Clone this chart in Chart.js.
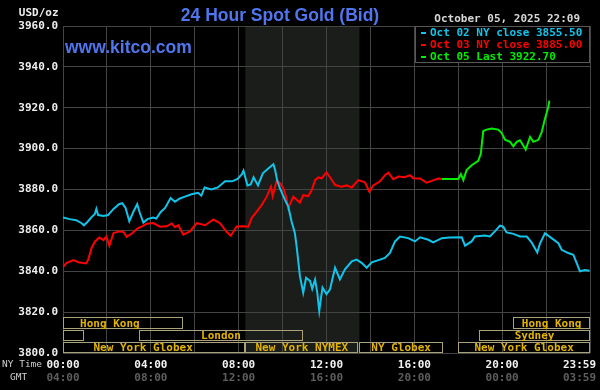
<!DOCTYPE html>
<html>
<head>
<meta charset="utf-8">
<script src="https://cdn.jsdelivr.net/npm/chart.js@4.4.0/dist/chart.umd.min.js"></script>
<style>
  html, body { margin: 0; padding: 0; background: #000; }
  canvas { display: block; }
</style>
</head>
<body>
<canvas id="gold" width="600" height="390"></canvas>
<script>
// ===== DATA (hours of NY time, USD/oz) =====
const oct02Hours = [0.00, 0.30, 0.60, 0.85, 0.95, 1.10, 1.30, 1.45, 1.52, 1.60, 1.85, 2.05, 2.30, 2.55, 2.70, 2.85, 3.02, 3.20, 3.38, 3.50, 3.66, 3.85, 4.10, 4.25, 4.45, 4.65, 4.90, 5.10, 5.30, 5.55, 5.85, 6.15, 6.30, 6.45, 6.75, 7.05, 7.38, 7.70, 7.95, 8.15, 8.22, 8.40, 8.55, 8.68, 8.88, 9.10, 9.35, 9.58, 9.66, 9.75, 9.88, 10.11, 10.26, 10.41, 10.56, 10.64, 10.79, 10.94, 11.07, 11.25, 11.35, 11.48, 11.58, 11.67, 11.75, 11.82, 12.00, 12.16, 12.39, 12.61, 12.84, 13.15, 13.37, 13.60, 13.83, 14.06, 14.44, 14.66, 14.89, 15.12, 15.35, 15.72, 16.03, 16.26, 16.64, 16.86, 17.25, 17.60, 18.16, 18.31, 18.61, 18.76, 19.22, 19.44, 19.67, 19.90, 20.05, 20.20, 20.51, 20.81, 21.12, 21.34, 21.60, 21.72, 21.95, 22.25, 22.56, 22.71, 23.01, 23.24, 23.39, 23.54, 23.77, 23.98];
const oct02Prices = [3866.3, 3865.5, 3865.0, 3863.5, 3862.5, 3864.0, 3866.5, 3868.0, 3870.5, 3867.5, 3867.0, 3867.5, 3870.5, 3872.8, 3873.3, 3871.0, 3864.5, 3869.0, 3872.8, 3868.5, 3863.8, 3865.5, 3866.3, 3865.8, 3869.0, 3871.0, 3875.8, 3874.0, 3875.5, 3876.5, 3877.7, 3878.4, 3877.0, 3881.0, 3880.0, 3881.0, 3884.0, 3884.0, 3885.2, 3887.5, 3889.3, 3882.0, 3882.5, 3886.0, 3882.0, 3887.9, 3890.3, 3892.4, 3889.5, 3884.6, 3880.5, 3874.9, 3871.6, 3864.3, 3858.6, 3852.1, 3837.6, 3829.5, 3836.8, 3835.3, 3831.4, 3835.9, 3829.5, 3820.6, 3827.0, 3832.0, 3828.8, 3831.2, 3841.7, 3836.0, 3840.9, 3844.9, 3845.7, 3844.1, 3841.7, 3844.4, 3845.7, 3846.5, 3849.0, 3854.6, 3857.0, 3856.2, 3854.6, 3856.6, 3855.4, 3854.1, 3856.2, 3856.5, 3856.6, 3852.5, 3854.6, 3857.0, 3857.5, 3857.0, 3859.5, 3862.3, 3861.8, 3859.0, 3858.3, 3857.0, 3857.0, 3854.1, 3849.2, 3853.5, 3858.6, 3856.2, 3853.7, 3850.5, 3848.9, 3848.1, 3844.1, 3840.0, 3840.6, 3840.2];

const oct03Hours = [0.00, 0.15, 0.47, 0.70, 1.05, 1.15, 1.30, 1.46, 1.65, 1.84, 1.97, 2.11, 2.30, 2.55, 2.75, 2.90, 3.15, 3.40, 3.60, 3.81, 4.11, 4.42, 4.72, 4.95, 5.10, 5.25, 5.48, 5.78, 6.09, 6.47, 6.85, 7.15, 7.45, 7.64, 7.91, 8.21, 8.44, 8.59, 8.82, 9.05, 9.28, 9.47, 9.55, 9.73, 9.88, 10.03, 10.15, 10.26, 10.49, 10.64, 10.79, 10.94, 11.17, 11.33, 11.48, 11.63, 11.78, 12.00, 12.16, 12.39, 12.69, 12.92, 13.15, 13.45, 13.75, 13.95, 14.13, 14.44, 14.66, 14.82, 15.04, 15.27, 15.57, 15.80, 15.95, 16.26, 16.56, 16.79, 17.09, 17.25];
const oct03Prices = [3842.0, 3844.0, 3845.5, 3844.4, 3843.8, 3845.7, 3851.4, 3854.6, 3856.5, 3855.2, 3857.0, 3852.5, 3858.7, 3859.5, 3859.3, 3856.8, 3858.6, 3861.0, 3862.0, 3863.2, 3863.6, 3861.8, 3862.0, 3863.4, 3861.5, 3862.5, 3857.9, 3859.5, 3863.6, 3862.5, 3865.3, 3863.5, 3859.3, 3857.4, 3861.9, 3862.0, 3861.8, 3866.0, 3869.2, 3872.5, 3876.5, 3881.4, 3876.8, 3884.3, 3883.2, 3880.6, 3876.8, 3871.0, 3876.5, 3875.0, 3873.6, 3877.2, 3876.8, 3879.7, 3884.6, 3885.9, 3885.5, 3888.4, 3886.0, 3882.2, 3881.4, 3882.0, 3881.0, 3884.6, 3883.5, 3878.9, 3882.0, 3884.0, 3887.0, 3888.2, 3885.0, 3886.3, 3886.0, 3887.0, 3885.5, 3885.4, 3883.3, 3884.2, 3885.4, 3885.1];

const oct05Hours = [17.25, 18.00, 18.12, 18.23, 18.38, 18.61, 18.91, 19.03, 19.08, 19.14, 19.29, 19.52, 19.82, 19.98, 20.13, 20.36, 20.51, 20.66, 20.81, 20.96, 21.07, 21.27, 21.42, 21.65, 21.80, 21.95, 22.10, 22.15];
const oct05Prices = [3885.1, 3885.1, 3887.5, 3884.6, 3889.5, 3891.9, 3894.0, 3897.6, 3903.0, 3908.6, 3909.3, 3909.8, 3909.3, 3907.6, 3904.4, 3903.3, 3901.1, 3903.3, 3904.1, 3901.5, 3899.5, 3905.7, 3903.3, 3904.3, 3908.1, 3914.6, 3920.3, 3923.5];

const legendLabels = ['Oct 02 NY close 3855.50', 'Oct 03 NY close 3885.00', 'Oct 05 Last 3922.70'];
const seriesColors = ['#12c4ea', '#ff0000', '#00ee00'];

const timeTickHours = [0, 4, 8, 12, 16, 20, 24];
const nyTimeLabels = ['00:00', '04:00', '08:00', '12:00', '16:00', '20:00', '23:59'];
const gmtLabels = ['04:00', '08:00', '12:00', '16:00', '20:00', '00:00', '03:59'];

// trading sessions: row 0 = bottom strip
const sessionNames = ['Hong Kong', 'Sydney', 'London', 'New York Globex', 'New York NYMEX', 'NY Globex', 'New York Globex', 'Sydney', 'Hong Kong'];
const sessionRows = [2, 1, 1, 0, 0, 0, 0, 1, 2];
const sessionStart = [-1.2, -5.0, 3.45, -1.0, 8.3, 13.5, 18.0, 18.95, 20.5];
const sessionEnd = [5.47, 0.97, 10.93, 8.3, 13.45, 17.3, 24, 24, 24];
const nymexShade = [8.3, 13.5];

const mono = '"DejaVu Sans Mono", monospace';

function pts(hours, prices) {
  return hours.map((h, i) => ({ x: h, y: prices[i] }));
}

// ===== PLUGINS =====
const backdrop = {
  id: 'backdrop',
  beforeDraw(chart) {
    const { ctx, chartArea: a, scales: { x } } = chart;
    ctx.save();
    ctx.fillStyle = '#000';
    ctx.fillRect(0, 0, chart.width, chart.height);
    const s0 = x.getPixelForValue(nymexShade[0]), s1 = x.getPixelForValue(nymexShade[1]);
    ctx.fillStyle = '#1b1d1a';
    ctx.fillRect(s0, a.top, s1 - s0, a.bottom - a.top);
    ctx.restore();
  }
};

const sessions = {
  id: 'sessions',
  afterDatasetsDraw(chart) {
    const { ctx, chartArea: a, scales: { x } } = chart;
    const tops = [11, 23, 36], bots = [0, 12, 24];
    ctx.save();
    ctx.beginPath();
    ctx.rect(a.left, 0, a.right - a.left + 1, chart.height);
    ctx.clip();
    ctx.font = 'bold 11px ' + mono;
    ctx.textAlign = 'center';
    ctx.textBaseline = 'middle';
    sessionNames.forEach((name, i) => {
      const r = sessionRows[i];
      const x0 = Math.round(x.getPixelForValue(Math.max(0, sessionStart[i]))) + 0.5;
      const x1 = Math.round(x.getPixelForValue(Math.min(24, sessionEnd[i]))) - 0.5;
      const y0 = Math.round(a.bottom - tops[r]) + 0.5;
      const y1 = Math.round(a.bottom - bots[r]) - 0.5;
      ctx.strokeStyle = '#a9a27a';
      ctx.lineWidth = 1;
      ctx.strokeRect(x0, y0, x1 - x0, y1 - y0);
      const cx = (x.getPixelForValue(sessionStart[i]) + x.getPixelForValue(sessionEnd[i])) / 2;
      ctx.fillStyle = '#e2b400';
      ctx.fillText(name, cx, (y0 + y1) / 2 + 1);
    });
    ctx.restore();
  }
};

const texts = {
  id: 'texts',
  afterDraw(chart) {
    const { ctx, scales: { x } } = chart;
    ctx.save();
    // title and site
    ctx.fillStyle = '#4f76ee';
    ctx.font = 'bold 17.5px "Liberation Sans", Arial, sans-serif';
    ctx.textAlign = 'center';
    ctx.textBaseline = 'alphabetic';
    ctx.fillText('24 Hour Spot Gold (Bid)', 280, 21);
    ctx.textAlign = 'left';
    ctx.fillText('www.kitco.com', 65, 53);

    ctx.font = 'bold 11px ' + mono;
    ctx.textBaseline = 'middle';
    ctx.fillStyle = '#eeeeee';
    ctx.textAlign = 'right';
    ctx.fillText('USD/oz', 58.5, 13);
    ctx.fillStyle = '#d6d6d6';
    ctx.fillText('October 05, 2025 22:09', 580, 19);

    // legend box
    ctx.fillStyle = '#000';
    ctx.fillRect(415, 26, 175, 36);
    ctx.strokeStyle = '#585858';
    ctx.lineWidth = 1;
    ctx.strokeRect(415.5, 26.5, 174, 36);
    ctx.textAlign = 'left';
    legendLabels.forEach((t, i) => {
      ctx.fillStyle = seriesColors[i];
      ctx.fillRect(421, 32 + i * 12, 5, 2);
      ctx.fillText(t, 430, 33 + i * 12);
    });

    // time axis labels
    ctx.textAlign = 'center';
    timeTickHours.forEach((h, i) => {
      let px = x.getPixelForValue(h);
      const w = ctx.measureText(nyTimeLabels[i]).width;
      if (px + w / 2 > 596) px = 596 - w / 2;
      ctx.fillStyle = '#f2f2f2';
      ctx.fillText(nyTimeLabels[i], px, 365);
      ctx.fillStyle = '#5e5e5e';
      ctx.fillText(gmtLabels[i], px, 378);
    });
    ctx.font = '9.5px ' + mono;
    ctx.textAlign = 'left';
    ctx.fillStyle = '#cfcfcf';
    ctx.fillText('NY Time', 2, 365);
    ctx.fillText('GMT', 10, 378);
    ctx.restore();
  }
};

// ===== CHART =====
new Chart(document.getElementById('gold').getContext('2d'), {
  type: 'line',
  data: {
    datasets: [
      { label: legendLabels[0], data: pts(oct02Hours, oct02Prices), borderColor: seriesColors[0], borderWidth: 2, pointRadius: 0, tension: 0 },
      { label: legendLabels[1], data: pts(oct03Hours, oct03Prices), borderColor: seriesColors[1], borderWidth: 2, pointRadius: 0, tension: 0 },
      { label: legendLabels[2], data: pts(oct05Hours, oct05Prices), borderColor: seriesColors[2], borderWidth: 2, pointRadius: 0, tension: 0 }
    ]
  },
  options: {
    responsive: false, animation: false,
    layout: { padding: { top: 26, right: 10, bottom: 37, left: 0 } },
    plugins: { legend: { display: false }, tooltip: { enabled: false } },
    scales: {
      x: {
        type: 'linear', min: 0, max: 24,
        ticks: { display: false, stepSize: 2 },
        grid: { color: '#444444', drawTicks: false },
        border: { display: false }
      },
      y: {
        min: 3800, max: 3960,
        ticks: { stepSize: 20, color: '#efefef', padding: 5, font: { family: mono, size: 11, weight: 'bold' }, callback: v => v.toFixed(1) },
        grid: { color: '#444444', drawTicks: false },
        border: { display: false },
        afterFit: s => { s.width = 63; }
      }
    }
  },
  plugins: [backdrop, sessions, texts]
});
</script>
</body>
</html>
